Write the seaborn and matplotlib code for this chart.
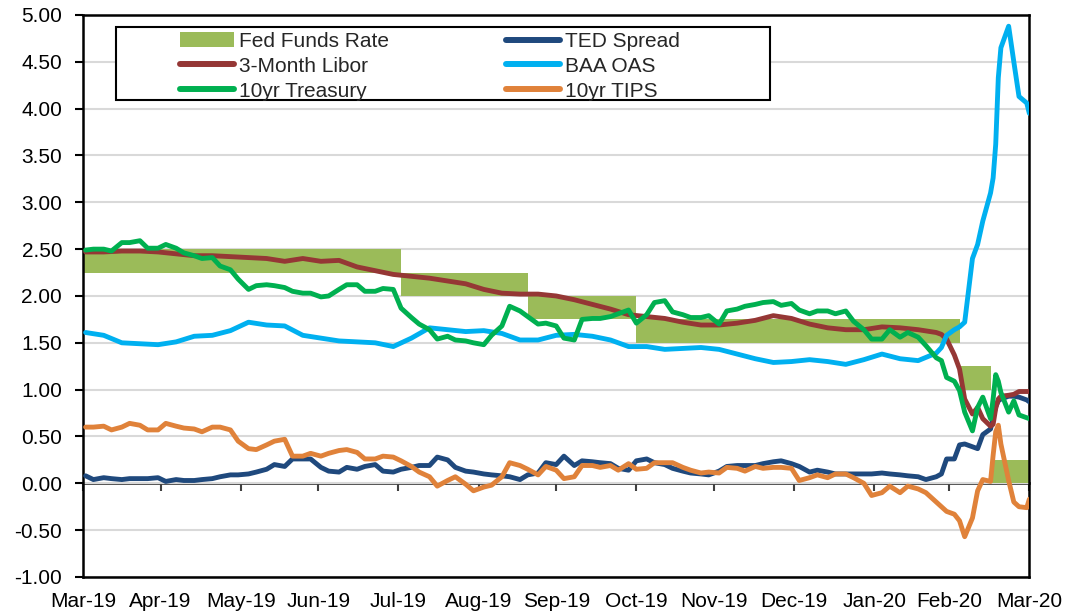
import pandas as pd
import matplotlib
matplotlib.use("Agg")
import matplotlib.pyplot as plt
import matplotlib.dates as mdates
from matplotlib.lines import Line2D
from matplotlib.patches import Patch, Rectangle
import seaborn as sns

# ---------------------------
# Data
# weekly points (Mondays), extra Thursday points for the choppier series,
# and denser points through the March 2020 selloff
# ---------------------------
weekly_dates = pd.date_range("2019-04-01", "2020-02-24", freq="7D")
mid_dates = pd.date_range("2019-04-04", "2020-02-20", freq="7D")
tail_dates = pd.to_datetime([
    "2020-02-26", "2020-02-28", "2020-03-02", "2020-03-04", "2020-03-06",
    "2020-03-09", "2020-03-11", "2020-03-13", "2020-03-16", "2020-03-17",
    "2020-03-18", "2020-03-19", "2020-03-20", "2020-03-23", "2020-03-25",
    "2020-03-27", "2020-03-30", "2020-03-31",
])

treasury_10y = [
    2.49, 2.50, 2.57, 2.59, 2.51, 2.51, 2.43, 2.41, 2.28, 2.07, 2.12, 2.09, 2.03, 1.99,
    2.07, 2.12, 2.05, 2.07, 1.77, 1.64, 1.57, 1.52, 1.48, 1.68, 1.84, 1.70, 1.68,
    1.53, 1.76, 1.78, 1.85, 1.80, 1.95, 1.80, 1.77, 1.70, 1.86, 1.91, 1.94, 1.92, 1.81,
    1.84, 1.84, 1.64, 1.54, 1.56, 1.56, 1.34,
    1.31, 1.13, 1.09, 0.99, 0.76, 0.56, 0.81, 0.92, 0.69, 0.90, 1.16, 1.09, 0.97,
    0.76, 0.88, 0.73, 0.70, 0.69,
]
treasury_10y_mid = [
    2.50, 2.48, 2.57, 2.51, 2.55, 2.46, 2.40, 2.32, 2.18, 2.11, 2.11, 2.05, 2.03,
    2.00, 2.12, 2.05, 2.08, 1.87, 1.70, 1.54, 1.53, 1.50, 1.58, 1.89, 1.78, 1.71, 1.55,
    1.75, 1.76, 1.81, 1.71, 1.93, 1.83, 1.77, 1.79, 1.84, 1.89, 1.93, 1.90, 1.85,
    1.84, 1.81, 1.73, 1.54, 1.64, 1.61, 1.47,
]
libor_3m = [
    2.47, 2.47, 2.48, 2.48, 2.47, 2.45, 2.43, 2.43, 2.42, 2.41, 2.40, 2.37, 2.40, 2.37,
    2.38, 2.31, 2.27, 2.23, 2.21, 2.19, 2.16, 2.13, 2.07, 2.03, 2.02, 2.02, 2.00,
    1.96, 1.91, 1.86, 1.80, 1.78, 1.76, 1.72, 1.69, 1.69, 1.71, 1.74, 1.79, 1.76, 1.70,
    1.66, 1.64, 1.64, 1.67, 1.66, 1.64, 1.61,
    1.59, 1.54, 1.37, 1.22, 0.90, 0.74, 0.81, 0.69, 0.61, 0.63, 0.80, 0.90, 0.93,
    0.94, 0.95, 0.98, 0.98, 0.98,
]
baa_oas = [
    1.61, 1.58, 1.50, 1.49, 1.48, 1.51, 1.57, 1.58, 1.63, 1.72, 1.69, 1.68, 1.58, 1.55,
    1.52, 1.51, 1.50, 1.46, 1.55, 1.66, 1.64, 1.62, 1.63, 1.60, 1.53, 1.53, 1.58,
    1.59, 1.57, 1.53, 1.46, 1.46, 1.43, 1.44, 1.45, 1.43, 1.38, 1.33, 1.29, 1.30, 1.32,
    1.30, 1.27, 1.32, 1.38, 1.33, 1.31, 1.39,
    1.45, 1.58, 1.64, 1.67, 1.72, 2.40, 2.55, 2.80, 3.10, 3.26, 3.62, 4.33, 4.65,
    4.88, 4.50, 4.13, 4.06, 3.95,
]
ted_spread = [
    0.08, 0.06, 0.04, 0.05, 0.06, 0.04, 0.03, 0.05, 0.09, 0.10, 0.15, 0.18, 0.26, 0.17,
    0.12, 0.15, 0.20, 0.12, 0.17, 0.19, 0.25, 0.13, 0.10, 0.08, 0.04, 0.11, 0.20,
    0.19, 0.23, 0.21, 0.14, 0.26, 0.20, 0.13, 0.10, 0.13, 0.19, 0.19, 0.23, 0.21, 0.12,
    0.12, 0.10, 0.10, 0.11, 0.09, 0.07, 0.07,
    0.10, 0.26, 0.26, 0.41, 0.42, 0.39, 0.37, 0.52, 0.58, 0.70, 0.82, 0.88, 0.90,
    0.93, 0.93, 0.92, 0.89, 0.87,
]
ted_spread_mid = [
    0.04, 0.05, 0.05, 0.05, 0.02, 0.03, 0.04, 0.07, 0.09, 0.12, 0.20, 0.26, 0.26,
    0.13, 0.17, 0.18, 0.13, 0.15, 0.19, 0.28, 0.17, 0.12, 0.09, 0.07, 0.09, 0.22, 0.29,
    0.24, 0.22, 0.16, 0.24, 0.22, 0.16, 0.11, 0.09, 0.18, 0.19, 0.21, 0.24, 0.18,
    0.14, 0.10, 0.10, 0.10, 0.10, 0.08, 0.04,
]
tips_10y = [
    0.60, 0.61, 0.60, 0.62, 0.57, 0.61, 0.58, 0.60, 0.57, 0.37, 0.41, 0.47, 0.29, 0.29,
    0.35, 0.33, 0.26, 0.28, 0.18, 0.07, 0.03, -0.01, -0.04, 0.07, 0.19, 0.09, 0.14,
    0.07, 0.19, 0.19, 0.21, 0.16, 0.22, 0.17, 0.11, 0.11, 0.16, 0.18, 0.17, 0.16, 0.06,
    0.06, 0.10, 0.00, -0.10, -0.10, -0.06, -0.20,
    -0.25, -0.30, -0.33, -0.40, -0.57, -0.37, -0.08, 0.04, 0.02, 0.30, 0.55, 0.62, 0.42,
    0.03, -0.20, -0.25, -0.26, -0.17,
]
tips_10y_mid = [
    0.60, 0.57, 0.64, 0.57, 0.64, 0.59, 0.55, 0.60, 0.45, 0.36, 0.45, 0.29, 0.32,
    0.32, 0.36, 0.26, 0.29, 0.24, 0.12, -0.03, 0.07, -0.08, -0.02, 0.22, 0.15, 0.18, 0.05,
    0.19, 0.17, 0.14, 0.15, 0.22, 0.22, 0.14, 0.12, 0.17, 0.13, 0.16, 0.17, 0.03,
    0.09, 0.10, 0.06, -0.13, -0.03, -0.03, -0.10,
]

# Fed funds target range (lower / upper), changes on these dates
ff_dates = pd.to_datetime(["2019-03-31", "2019-08-01", "2019-09-19", "2019-10-31",
                           "2020-03-04", "2020-03-16", "2020-03-31"])
ff_lower = [2.25, 2.00, 1.75, 1.50, 1.00, 0.00, 0.00]
ff_upper = [2.50, 2.25, 2.00, 1.75, 1.25, 0.25, 0.25]

tick_dates = pd.to_datetime([
    "2019-03-31", "2019-04-30", "2019-05-31", "2019-06-30", "2019-07-31",
    "2019-08-31", "2019-09-30", "2019-10-31", "2019-11-30", "2019-12-31",
    "2020-01-31", "2020-02-29", "2020-03-31",
])
tick_labels = ["Mar-19", "Apr-19", "May-19", "Jun-19", "Jul-19", "Aug-19", "Sep-19",
               "Oct-19", "Nov-19", "Dec-19", "Jan-20", "Feb-20", "Mar-20"]
y_ticks = [-1.0, -0.5, 0.0, 0.5, 1.0, 1.5, 2.0, 2.5, 3.0, 3.5, 4.0, 4.5, 5.0]

colors = {
    "Fed Funds Rate": "#9BBB59",
    "TED Spread": "#1F497D",
    "3-Month Libor": "#953735",
    "BAA OAS": "#00B0F0",
    "10yr Treasury": "#00B050",
    "10yr TIPS": "#E0823A",
}

main_dates = weekly_dates.append(tail_dates)
# (name, dates, values) in the drawing order of the original (TIPS on top)
series = [
    ("TED Spread", [main_dates, mid_dates], [ted_spread, ted_spread_mid]),
    ("3-Month Libor", [main_dates], [libor_3m]),
    ("BAA OAS", [main_dates], [baa_oas]),
    ("10yr Treasury", [main_dates, mid_dates], [treasury_10y, treasury_10y_mid]),
    ("10yr TIPS", [main_dates, mid_dates], [tips_10y, tips_10y_mid]),
]
frames = []
for name, date_parts, value_parts in series:
    for d, v in zip(date_parts, value_parts):
        frames.append(pd.DataFrame({"date": d, "value": v, "series": name}))
df = pd.concat(frames, ignore_index=True).sort_values("date")

# ---------------------------
# Plot
# ---------------------------
sns.set_theme(style="white")
plt.rcParams["font.family"] = ["Liberation Sans", "DejaVu Sans"]
plt.rcParams["lines.solid_joinstyle"] = "round"
plt.rcParams["lines.solid_capstyle"] = "round"

fig = plt.figure(figsize=(10.66, 6.14), dpi=100)
ax = fig.add_axes([0.0779, 0.0603, 0.8877, 0.9153])

ax.fill_between(ff_dates, ff_lower, ff_upper, step="post",
                color=colors["Fed Funds Rate"], linewidth=0, zorder=1)

sns.lineplot(data=df, x="date", y="value", hue="series",
             hue_order=[s[0] for s in series], palette=colors, linewidth=3.5,
             legend=False, ax=ax, zorder=3)

ax.set_xlim(tick_dates[0], tick_dates[-1])
ax.set_ylim(-1, 5)
ax.set_xlabel("")
ax.set_ylabel("")

ax.set_yticks(y_ticks)
ax.set_yticklabels([f"{v:.2f}" for v in y_ticks])
ax.set_xticks(tick_dates)
ax.set_xticklabels(tick_labels)
ax.tick_params(axis="y", direction="out", length=6, width=1.5, color="black",
               labelsize=15, pad=9, labelcolor="black", left=True)
ax.tick_params(axis="x", length=0, labelsize=15, pad=11, labelcolor="black")

ax.yaxis.grid(True, color="#D9D9D9", linewidth=1.5)
ax.xaxis.grid(False)
ax.set_axisbelow(True)
for s in ax.spines.values():
    s.set_visible(True)
    s.set_color("black")
    s.set_linewidth(1.8)

# horizontal axis line at zero with month ticks hanging below it
zero_ax = ax.secondary_xaxis(1 / 6)
zero_ax.set_xticks(mdates.date2num(tick_dates))
zero_ax.tick_params(axis="x", direction="out", length=6, width=1.5, color="#404040",
                    labelbottom=False, bottom=True)
zero_ax.spines["bottom"].set_color("#404040")
zero_ax.spines["bottom"].set_linewidth(2)

# legend with its own frame
ax.add_patch(Rectangle((0.0346, 0.8488), 0.6914, 0.1304, transform=ax.transAxes,
                       facecolor="white", edgecolor="black", linewidth=1.5, zorder=5))
legend_order = ["Fed Funds Rate", "3-Month Libor", "10yr Treasury",
                "TED Spread", "BAA OAS", "10yr TIPS"]
handles = []
for name in legend_order:
    if name == "Fed Funds Rate":
        handles.append(Patch(facecolor=colors[name], edgecolor="none"))
    else:
        handles.append(Line2D([], [], color=colors[name], linewidth=4.3,
                              solid_capstyle="round"))
leg = ax.legend(handles, legend_order, ncol=2, loc="upper left",
                bbox_to_anchor=(0.102, 0.970), frameon=False, fontsize=15,
                borderpad=0, borderaxespad=0, handlelength=2.6, handletextpad=0.25,
                columnspacing=5.6, labelspacing=0.28)
leg.set_zorder(6)

fig.savefig("out.png", dpi=100)
